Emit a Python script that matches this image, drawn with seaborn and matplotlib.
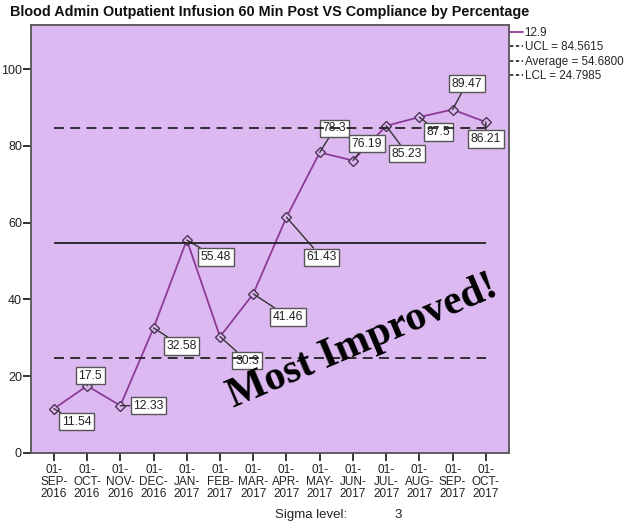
import pandas as pd
import matplotlib.pyplot as plt
import seaborn as sns
from matplotlib.lines import Line2D

# data
months = ["01-\nSEP-\n2016", "01-\nOCT-\n2016", "01-\nNOV-\n2016", "01-\nDEC-\n2016",
          "01-\nJAN-\n2017", "01-\nFEB-\n2017", "01-\nMAR-\n2017", "01-\nAPR-\n2017",
          "01-\nMAY-\n2017", "01-\nJUN-\n2017", "01-\nJUL-\n2017", "01-\nAUG-\n2017",
          "01-\nSEP-\n2017", "01-\nOCT-\n2017"]
compliance = [11.54, 17.5, 12.33, 32.58, 55.48, 30.3, 41.46, 61.43,
              78.3, 76.19, 85.23, 87.5, 89.47, 86.21]
value_labels = ["11.54", "17.5", "12.33", "32.58", "55.48", "30.3", "41.46", "61.43",
                "78.3", "76.19", "85.23", "87.5", "89.47", "86.21"]
ucl = 84.5615
average = 54.68
lcl = 24.7985
series_name = "12.9"
sigma_level = 3

# where each value box sits relative to its point (pixels, up = positive)
label_offsets = [(23, -13), (3, 10), (28, 0), (28, -18), (29, -17), (27, -24), (35, -23),
                 (35, -40), (15, 24), (14, 17), (21, -28), (19, -15), (14, 26), (0, -17)]

df = pd.DataFrame({"idx": range(len(months)), "month": months, "value": compliance})

sns.set_style("ticks")
plt.rcParams["font.family"] = ["Liberation Sans", "DejaVu Sans"]

bg = "#ddb9f1"
purple = "#8c3c96"

fig = plt.figure(figsize=(6.27, 5.26), dpi=100)
ax = fig.add_axes([0.0494, 0.1388, 0.762, 0.8137])
ax.set_facecolor(bg)

sns.lineplot(data=df, x="idx", y="value", ax=ax, color=purple, lw=1.3,
             marker="D", markersize=5.5, markerfacecolor=bg,
             markeredgecolor="#4e3456", markeredgewidth=1.0, zorder=3)

for i, (v, lab, off) in enumerate(zip(compliance, value_labels, label_offsets)):
    ax.annotate(lab, (i, v), xytext=off, textcoords="offset pixels",
                ha="center", va="center", fontsize=8.7, color="#222222", zorder=4,
                bbox=dict(boxstyle="square,pad=0.22", fc="white", ec="#555555", lw=1),
                arrowprops=dict(arrowstyle="-", color="#333333", lw=1,
                                shrinkA=0, shrinkB=0))

x0, x1 = df["idx"].iloc[0], df["idx"].iloc[-1]
ax.hlines(ucl, x0, x1, colors="#222222", linestyles=(0, (5.5, 3.5)), lw=1.3, zorder=5)
ax.hlines(average, x0, x1, colors="#222222", linestyles="solid", lw=1.3, zorder=5)
ax.hlines(lcl, x0, x1, colors="#222222", linestyles=(0, (5.5, 3.5)), lw=1.3, zorder=5)

ax.set_xlim(-0.69, 13.69)
ax.set_ylim(0, 111.5)
ax.set_xticks(df["idx"])
ax.set_xticklabels(months, fontsize=8.5, linespacing=1.0, color="#222222")
ax.set_yticks([0, 20, 40, 60, 80, 100])
ax.tick_params(axis="y", labelsize=9, colors="#222222", length=6, width=1.3, pad=0.5)
ax.tick_params(axis="x", length=6, width=1.3, pad=2)
ax.set_xlabel("")
ax.set_ylabel("")
for s in ax.spines.values():
    s.set_color("#555555")
    s.set_linewidth(1.3)

ax.text(9.3, 29, "Most Improved!", rotation=23, ha="center", va="center",
        rotation_mode="anchor", fontsize=30, fontweight="bold",
        family="Liberation Serif", color="black", zorder=6)

fig.text(10 / 627, 1 - 12 / 526, "Blood Admin Outpatient Infusion 60 Min Post VS Compliance by Percentage",
         ha="left", va="center", fontsize=10.4, fontweight="bold", color="#111111")

handles = [Line2D([], [], color=purple, lw=1.3),
           Line2D([], [], color="#222222", lw=1.2, ls=(0, (2, 1.5))),
           Line2D([], [], color="#222222", lw=1.2, ls=(0, (2, 1.5))),
           Line2D([], [], color="#222222", lw=1.2, ls=(0, (2, 1.5)))]
labels = [series_name, f"UCL = {ucl}", f"Average = {average:.4f}", f"LCL = {lcl}"]
fig.legend(handles, labels, loc="upper left", bbox_to_anchor=(510 / 627, 1 - 27 / 526),
           frameon=False, fontsize=8.4, handlelength=1.1, handletextpad=0.15,
           labelspacing=0.2, borderaxespad=0, borderpad=0)

fig.text(275 / 627, 1 - 515 / 526, "Sigma level:", ha="left", va="center", fontsize=9.5, color="#222222")
fig.text(398 / 627, 1 - 515 / 526, str(sigma_level), ha="center", va="center", fontsize=9.5, color="#222222")

fig.savefig("out.png", dpi=100)
